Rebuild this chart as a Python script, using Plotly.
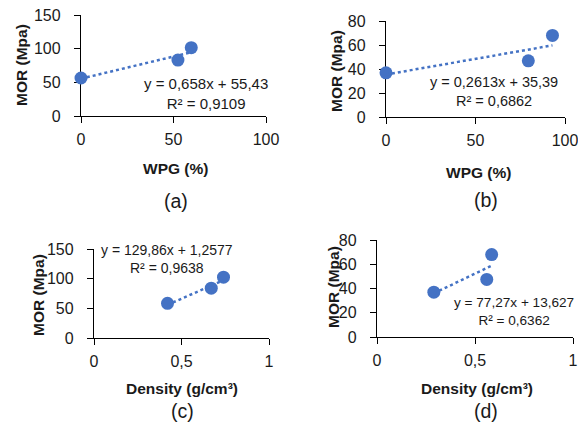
import plotly.graph_objects as go

# the page shows the plot inside its 8px body margin, so the figure gets the
# 570x414 box that is visible and positions are given in reference pixels
OFF = 8
W, H = 586 - 2 * OFF, 430 - 2 * OFF

# data
wpg_a = [0, 52.4, 59.6]
mor_a = [56.4, 83.0, 101.5]
wpg_b = [0, 79.5, 93.0]
mor_b = [36.8, 46.8, 68.0]
dens_c = [0.42, 0.67, 0.74]
mor_c = [58.5, 84.0, 102.5]
dens_d = [0.29, 0.56, 0.585]
mor_d = [37.0, 47.5, 68.0]

# trendlines (slope, intercept) from the equations in the chart
slopes = [0.658, 0.2613, 129.86, 77.27]
intercepts = [55.43, 35.39, 1.2577, 13.627]
eq_text = ['y = 0,658x + 55,43<br>R² = 0,9109',
           'y = 0,2613x + 35,39<br>R² = 0,6862',
           'y = 129,86x + 1,2577<br>R² = 0,9638',
           'y = 77,27x + 13,627<br>R² = 0,6362']

xs = [wpg_a, wpg_b, dens_c, dens_d]
ys = [mor_a, mor_b, mor_c, mor_d]
x_ranges = [[0, 100], [0, 100], [0, 1], [0, 1]]
y_ranges = [[0, 150], [0, 80], [0, 150], [0, 80]]
x_dticks = [50, 50, 0.5, 0.5]
y_dticks = [50, 20, 50, 20]
x_titles = ['WPG (%)', 'WPG (%)', 'Density (g/cm³)', 'Density (g/cm³)']
panel_labels = ['(a)', '(b)', '(c)', '(d)']

# plot areas in reference pixels: left, right, top, bottom
boxes = [(81, 266, 15, 116), (386, 565, 21, 117), (94, 269, 249, 338), (377, 573, 240, 337)]
# reference pixel centres of text
ytitle_pos = [(22, 65), (336, 71), (38, 295), (333, 287)]
xtitle_pos = [(176, 169), (478, 172), (182, 388), (477, 388)]
label_pos = [(176, 201), (486, 200), (182, 411), (486, 411)]
eq_pos = [(206, 93), (494, 91), (167, 259), (514, 311)]
eq_size = [15, 14.5, 14, 13.6]

BLUE = '#4472C4'
FONT = 'Arial, Liberation Sans, sans-serif'
TXT = '#1a1a1a'


def px(x, y):
    return (x - OFF) / W, 1 - (y - OFF) / H


fig = go.Figure()
annotations = []
layout = {}


def note(pos, text, size, angle=0):
    ax, ay = px(*pos)
    annotations.append(dict(x=ax, y=ay, xref='paper', yref='paper', text=text,
                            xanchor='center', yanchor='middle', textangle=angle,
                            showarrow=False, align='center',
                            font=dict(family=FONT, size=size, color=TXT)))


for i in range(4):
    n = '' if i == 0 else str(i + 1)
    xa, ya = 'x' + n, 'y' + n
    fig.add_trace(go.Scatter(
        x=xs[i], y=ys[i], xaxis=xa, yaxis=ya, mode='markers',
        marker=dict(color=BLUE, size=13), cliponaxis=False, showlegend=False))
    x0, x1 = min(xs[i]), max(xs[i])
    fig.add_trace(go.Scatter(
        x=[x0, x1], y=[slopes[i] * x0 + intercepts[i], slopes[i] * x1 + intercepts[i]],
        xaxis=xa, yaxis=ya, mode='lines',
        line=dict(color=BLUE, width=2.5, dash='dot'), cliponaxis=False, showlegend=False))

    l, r, t, b = boxes[i]
    common = dict(showgrid=False, zeroline=False, showline=True, linecolor='black',
                  linewidth=1.3, ticks='outside', ticklen=6, tickcolor='black',
                  tickwidth=1.3, layer='below traces', automargin=False,
                  ticklabeloverflow='allow',
                  tickfont=dict(family=FONT, size=16, color=TXT))
    layout['xaxis' + n] = dict(common, domain=[(l - OFF) / W, (r - OFF) / W],
                               range=x_ranges[i], dtick=x_dticks[i], tick0=0,
                               anchor=ya, ticklabelstandoff=3)
    layout['yaxis' + n] = dict(common, domain=[1 - (b - OFF) / H, 1 - (t - OFF) / H],
                               range=y_ranges[i], dtick=y_dticks[i], tick0=0,
                               anchor=xa, ticklabelstandoff=10)

    note(ytitle_pos[i], '<b>MOR (Mpa)</b>', 15.5, -90)
    note(xtitle_pos[i], '<b>' + x_titles[i] + '</b>', 15.5)
    note(label_pos[i], panel_labels[i], 19.5)
    note(eq_pos[i], eq_text[i], eq_size[i])

fig.update_layout(
    width=W, height=H,
    margin=dict(l=0, r=0, t=0, b=0),
    paper_bgcolor='white', plot_bgcolor='white',
    separators=', ',
    annotations=annotations,
    **layout
)

fig.write_html("out.html")
